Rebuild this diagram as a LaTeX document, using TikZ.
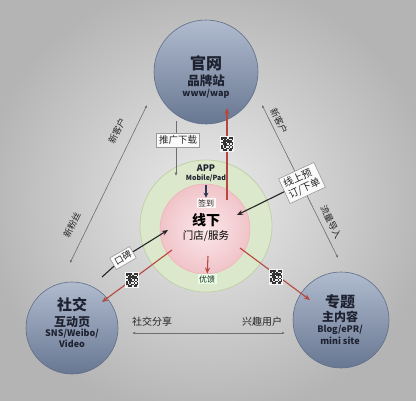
\documentclass[tikz,border=0pt]{standalone}
\usepackage{fontspec}
\setmainfont{Noto Sans CJK SC}
\usetikzlibrary{arrows.meta}
\definecolor{bgin}{HTML}{EBEBEB}
\definecolor{bgout}{HTML}{B4B4B4}
\definecolor{planettop}{HTML}{B0BBCE}
\definecolor{planetbot}{HTML}{687792}
\definecolor{planetedge}{HTML}{5F6E88}
\definecolor{ringfill}{HTML}{DCE8CB}
\definecolor{ringedge}{HTML}{BFD1A8}
\definecolor{pinkin}{HTML}{FBE7E9}
\definecolor{pinkout}{HTML}{F0C4C9}
\definecolor{redline}{HTML}{B5473F}
\definecolor{inkdark}{HTML}{1E2230}
\definecolor{navy}{HTML}{2B3856}
\definecolor{grayline}{HTML}{6E6E6E}
\tikzset{
  planet/.style={circle, draw=planetedge, line width=0.6pt, top color=planettop, bottom color=planetbot, align=center, text=inkdark, inner sep=0pt},
  tagbox/.style={draw=gray!80, fill=white!96!gray, line width=0.6pt, inner sep=2.5pt, font=\fontsize{9.5}{11}\selectfont, text=black!85, align=center},
  softbox/.style={fill=white!85!pink, inner sep=1.5pt, font=\fontsize{8}{9}\selectfont, text=black!85},
  gline/.style={grayline, line width=0.6pt, {Latex[length=3pt,width=2.5pt]}-{Latex[length=3pt,width=2.5pt]}},
  redarrow/.style={redline, line width=1.1pt, -{Stealth[length=6pt,width=5pt]}},
  blkarrow/.style={black!85, line width=1.1pt, -{Stealth[length=6pt,width=5pt]}},
  lbl/.style={font=\fontsize{9}{10}\selectfont, text=black!85, inner sep=1pt},
  qr/.pic={
    \fill[white!92!gray] (-7,-8) rectangle (7,8);
    \fill[black!80] (-6,-7) rectangle (6,7);
    \foreach \a/\b in {-4.5/-5.5,0/-7,1.5/-5.5,4.5/-4,-6/-1,-1.5/-2.5,0/-1,1.5/0.5,-4.5/0.5,-3/3.5,0/5,3/2,-6/5,3/-1,4.5/5,-1.5/-5.5,-4.5/2,1.5/3.5,-1.5/2,3/-5.5,-6/-4,0/2,4.5/0.5}
      \fill[white!85!gray] (\a,\b) rectangle ++(1.5,1.5);
  }
}
\begin{document}
\begin{tikzpicture}[x=1pt,y=-1pt]
\useasboundingbox (0,0) rectangle (416,400);
\shade[inner color=bgin, outer color=bgout] (-20,-20) rectangle (436,420);

% outer planets
\node[planet, minimum size=104pt] (guan) at (206,72) {};
\node[font=\bfseries\fontsize{16}{16}\selectfont, text=inkdark] (guanA) at (206,63) {官网};
\node[font=\bfseries\fontsize{12.5}{13}\selectfont, text=inkdark] (guanB) at (206,81) {品牌站};
\node[font=\bfseries\fontsize{9}{10}\selectfont, text=inkdark] (guanC) at (206,94) {www/wap};

\node[planet, minimum size=92pt] (she) at (72,328) {};
\node[font=\bfseries\fontsize{15}{15}\selectfont, text=inkdark] (sheA) at (72,305) {社交};
\node[font=\bfseries\fontsize{12}{12}\selectfont, text=inkdark] (sheB) at (72,322) {互动页};
\node[font=\bfseries\fontsize{9}{10}\selectfont, text=inkdark] (sheC) at (72,334) {SNS/Weibo/};
\node[font=\bfseries\fontsize{9}{10}\selectfont, text=inkdark] (sheD) at (72,344) {Video};

\node[planet, minimum size=96pt] (zhuan) at (341,320) {};
\node[font=\bfseries\fontsize{15}{15}\selectfont, text=inkdark] (zhA) at (340,302) {专题};
\node[font=\bfseries\fontsize{12}{12}\selectfont, text=inkdark] (zhB) at (340,317) {主内容};
\node[font=\bfseries\fontsize{9}{10}\selectfont, text=inkdark] (zhC) at (340,330) {Blog/ePR/};
\node[font=\bfseries\fontsize{9}{10}\selectfont, text=inkdark] (zhD) at (340,341) {mini site};

% centre rings
\node[circle, fill=ringfill, draw=ringedge, line width=0.8pt, minimum size=132pt, inner sep=0pt] (ring) at (206,226) {};
\node[circle, inner color=pinkin, outer color=pinkout, draw=pinkout!90!red, line width=0.5pt, minimum size=90pt, inner sep=0pt] (core) at (205,229) {};

\node[font=\bfseries\fontsize{9}{10}\selectfont, text=inkdark] (app) at (206,168) {APP};
\node[font=\bfseries\fontsize{7}{8}\selectfont, text=inkdark] (mob) at (206,178) {Mobile/Pad};
\node[softbox] (qian) at (206,203) {签到};
\node[font=\bfseries\fontsize{14}{14}\selectfont, text=black] (xian) at (206,220) {线下};
\node[font=\fontsize{10.5}{11}\selectfont, text=black] (men) at (206,236) {门店/服务};
\node[softbox, fill=white!90!green] (you) at (207,279) {优馈};
\draw[navy, line width=1.1pt, -{Stealth[length=5pt,width=5pt]}] (mob) -- (qian);

% red arrows from core
\coordinate (cUp) at (227,200);
\coordinate (gUp) at (227,108);
\draw[redarrow] (cUp) -- (gUp);
\coordinate (cDown) at (208,256);
\draw[redarrow] (cDown) -- (you);
\coordinate (cLeft) at (172,250);
\coordinate (sIn) at (102,302);
\draw[redarrow] (cLeft) -- (sIn);
\coordinate (cRight) at (240,248);
\coordinate (zIn) at (310,300);
\draw[redarrow] (cRight) -- (zIn);

% QR codes
\pic at (227,144) {qr};
\pic at (132,280) {qr};
\pic at (276,277) {qr};

% 推广下载
\coordinate (t1) at (176,121);
\coordinate (t2) at (176,176);
\draw[grayline, line width=0.6pt, -{Latex[length=3.5pt,width=3pt]}] (t1) -- (t2);
\node[tagbox] (tui) at (178,140) {推广下载};

% left long link
\coordinate (L1) at (147,105);
\coordinate (L2) at (70,263);
\draw[gline] (L1) -- (L2);
\node[lbl, rotate=64] (lk1) at (117,131) {新客户};
\node[lbl, rotate=64] (lk2) at (72,225) {新粉丝};

% right long link
\coordinate (R1) at (262,105);
\coordinate (R2) at (338,258);
\draw[gline] (R1) -- (R2);
\node[lbl, rotate=-64] (rk1) at (279,121) {新客户};
\node[lbl, rotate=-64] (rk2) at (331,222) {流量导入};

% bottom link
\coordinate (B1) at (132,333);
\coordinate (B2) at (285,333);
\draw[gline] (B1) -- (B2);
\node[lbl, font=\fontsize{10}{11}\selectfont] (bk1) at (152,322) {社交分享};
\node[lbl, font=\fontsize{10}{11}\selectfont] (bk2) at (262,322) {兴趣用户};

% 口碑
\node[tagbox, rotate=30, font=\fontsize{9}{10}\selectfont] (kou) at (123,258) {口碑};
\coordinate (k0) at (102,277);
\coordinate (k2) at (168,230);
\draw[black!85, line width=1.1pt] (k0) -- (kou);
\draw[blkarrow] (kou) -- (k2);

% 线上预订/下单
\node[tagbox, rotate=25, align=left, font=\fontsize{10}{12}\selectfont] (xs) at (302,183) {线上预\\订/下单};
\coordinate (x2) at (237,215);
\draw[blkarrow] (xs) -- (x2);
\end{tikzpicture}
\end{document}
